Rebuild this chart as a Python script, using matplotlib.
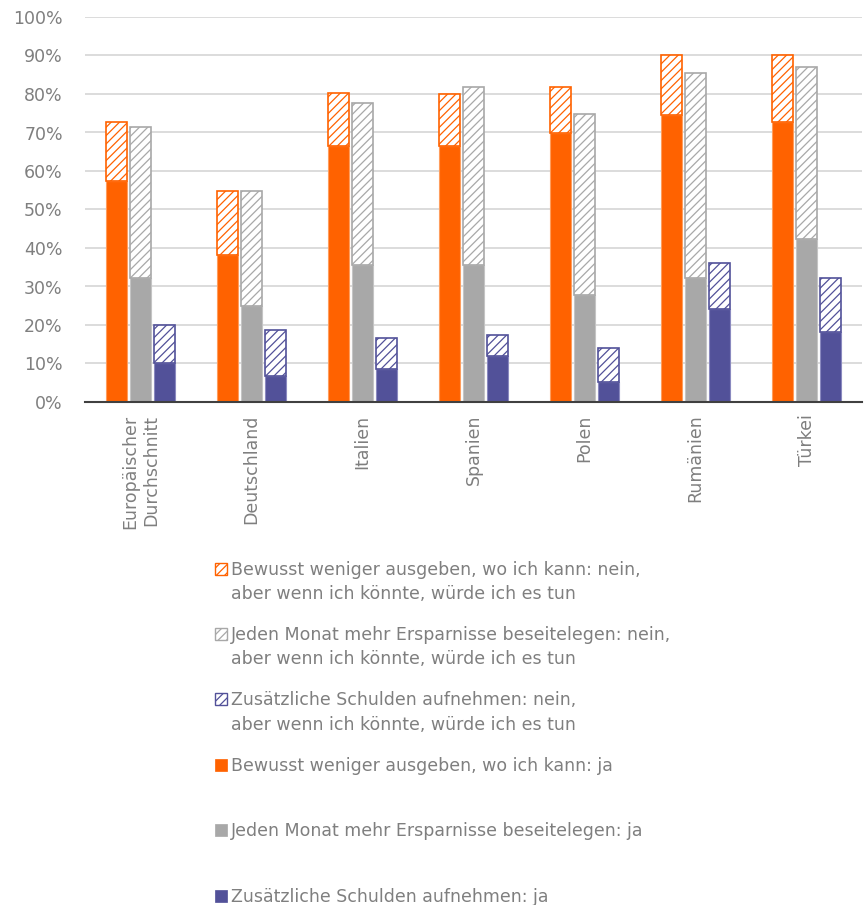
import matplotlib
matplotlib.use("Agg")
import matplotlib.pyplot as plt
from matplotlib.patches import Rectangle
import numpy as np

countries = ["Europäischer\nDurchschnitt", "Deutschland", "Italien", "Spanien", "Polen", "Rumänien", "Türkei"]

# totals (ja + nein, aber ...) and "ja" shares in %
spend_ja = [57.5, 38.1, 66.5, 66.5, 69.8, 74.6, 72.7]
spend_total = [72.6, 54.9, 80.2, 79.9, 81.7, 90.2, 90.2]
save_ja = [32.3, 25.0, 35.6, 35.6, 27.8, 32.3, 42.4]
save_total = [71.4, 54.8, 77.7, 81.7, 74.8, 85.5, 87.1]
debt_ja = [10.1, 6.8, 8.7, 11.9, 5.3, 24.2, 18.3]
debt_total = [20.0, 18.8, 16.7, 17.4, 13.9, 36.0, 32.1]

spend_nein = [t - j for t, j in zip(spend_total, spend_ja)]
save_nein = [t - j for t, j in zip(save_total, save_ja)]
debt_nein = [t - j for t, j in zip(debt_total, debt_ja)]

labels_nein = [
    "Bewusst weniger ausgeben, wo ich kann: nein,\naber wenn ich könnte, würde ich es tun",
    "Jeden Monat mehr Ersparnisse beseitelegen: nein,\naber wenn ich könnte, würde ich es tun",
    "Zusätzliche Schulden aufnehmen: nein,\naber wenn ich könnte, würde ich es tun",
]
labels_ja = [
    "Bewusst weniger ausgeben, wo ich kann: ja",
    "Jeden Monat mehr Ersparnisse beseitelegen: ja",
    "Zusätzliche Schulden aufnehmen: ja",
]

colors = ["#FF6200", "#A8A8A8", "#525199"]
edge_light = ["#FF9D5C", "#C4C4C4", "#8A89BF"]
text_color = "#7F7F7F"

plt.rcParams["font.family"] = ["DejaVu Sans"]
plt.rcParams["hatch.linewidth"] = 0.9

W, H = 864, 905
fig = plt.figure(figsize=(W / 100, H / 100), dpi=100)
ax = fig.add_axes([85 / W, 1 - 402 / H, (862 - 85) / W, (402 - 17) / H])

x = np.arange(len(countries))
offsets = [-0.22, 0.0, 0.22]
width = 0.19
series = [(spend_ja, spend_nein), (save_ja, save_nein), (debt_ja, debt_nein)]
for k, (ja, nein) in enumerate(series):
    ax.bar(x + offsets[k], ja, width, color=colors[k], edgecolor=edge_light[k], linewidth=0.8, zorder=3)
    ax.bar(x + offsets[k], nein, width, bottom=ja, facecolor="white", edgecolor=colors[k],
           hatch="////", linewidth=1.2, zorder=3)

ax.set_xlim(-0.5, len(countries) - 0.5)
ax.set_ylim(0, 100)
ax.set_yticks(np.arange(0, 101, 10))
ax.set_yticklabels([f"{v}%" for v in range(0, 101, 10)])
ax.yaxis.grid(True, color="#D9D9D9", linewidth=1.3, zorder=0)
ax.set_axisbelow(True)
for s in ["top", "right", "left"]:
    ax.spines[s].set_visible(False)
ax.spines["bottom"].set_color("#404040")
ax.spines["bottom"].set_linewidth(1.5)
ax.spines["bottom"].set_zorder(4)
ax.tick_params(axis="both", length=0, labelsize=12.5, labelcolor=text_color)
ax.tick_params(axis="y", pad=16)
ax.tick_params(axis="x", pad=9)
ax.set_xticks(x)
ax.set_xticklabels(countries, rotation=90, ma="right")

# legend drawn manually to mimic the stacked spacing
entries = [(labels_nein[i], colors[i], True) for i in range(3)] + [(labels_ja[i], colors[i], False) for i in range(3)]
y0, dy = 568.5, 65.4
for i, (lab, col, hatched) in enumerate(entries):
    yc = y0 + dy * i
    if hatched:
        r = Rectangle((215 / W, 1 - (yc + 6) / H), 12 / W, 12 / H, transform=fig.transFigure,
                      facecolor="white", edgecolor=col, hatch="////", linewidth=1.0)
    else:
        r = Rectangle((215 / W, 1 - (yc + 6) / H), 12 / W, 12 / H, transform=fig.transFigure,
                      facecolor=col, edgecolor=col, linewidth=0.5)
    fig.add_artist(r)
    for j, line in enumerate(lab.split("\n")):
        fig.text(231 / W, 1 - (yc + 6 + 24.5 * j) / H, line, fontsize=12.5, color=text_color,
                 va="baseline", ha="left")

fig.savefig("out.png", dpi=100)
